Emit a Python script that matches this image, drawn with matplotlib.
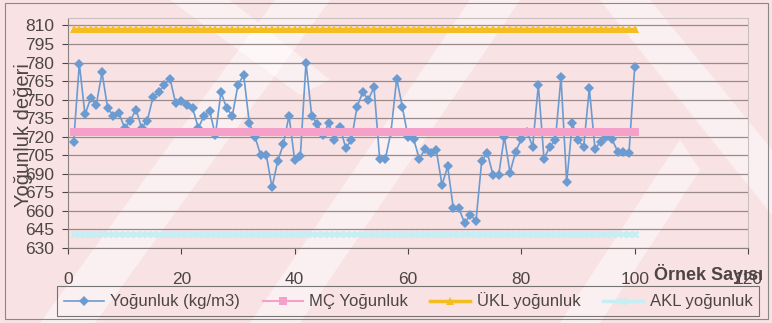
import matplotlib
matplotlib.use("Agg")
import matplotlib.pyplot as plt
from matplotlib.patches import Polygon, Rectangle

# density readings for samples 1..100
sample_no = list(range(1, 101))
density = [716, 779, 738, 751, 746, 772, 743, 737, 739, 727,
           733, 742, 727, 733, 752, 756, 762, 767, 747, 749,
           746, 743, 727, 737, 741, 721, 756, 743, 737, 762,
           770, 731, 720, 705, 705, 679, 700, 714, 737, 701,
           704, 780, 737, 730, 721, 731, 717, 728, 711, 717,
           744, 756, 750, 760, 702, 702, 724, 767, 744, 720,
           718, 702, 710, 707, 709, 681, 696, 662, 662, 650,
           657, 652, 700, 707, 689, 689, 720, 691, 708, 718,
           724, 712, 762, 702, 712, 717, 768, 683, 731, 717,
           712, 759, 710, 716, 720, 718, 708, 708, 707, 776]

center_line = 724   # MÇ
upper_limit = 807   # ÜKL
lower_limit = 641   # AKL

y_ticks = list(range(630, 811, 15))
x_ticks = [0, 20, 40, 60, 80, 100, 120]

plt.rcParams["font.family"] = ["Liberation Sans", "DejaVu Sans"]

fig = plt.figure(figsize=(7.72, 3.23), dpi=100)
fig.patch.set_facecolor("#f8e2e4")

# soft diagonal light bands across the sheet, kept behind the chart
W, H = 772, 323
def band(pts):
    poly = Polygon([(x / W, 1 - y / H) for x, y in pts], closed=True,
                   transform=fig.transFigure, facecolor="white", alpha=0.5,
                   edgecolor="none", zorder=-5)
    fig.patches.append(poly)

band([(40, 323), (95, 323), (330, 0), (275, 0)])
band([(250, 323), (300, 323), (520, 0), (470, 0)])
band([(560, 323), (600, 323), (700, 170), (680, 140)])
band([(170, 0), (230, 0), (330, 80), (300, 95)])
band([(600, 0), (650, 0), (772, 150), (772, 215)])

ax = fig.add_axes([68 / W, 1 - 248 / H, 680 / W, 230 / H])
ax.set_facecolor("none")
ax.set_zorder(2)

ax.plot(sample_no, density, color="#6b9bd1", lw=1.2, marker="D",
        markersize=5, markeredgewidth=0, label="Yoğunluk (kg/m3)", zorder=3)
ax.plot(sample_no, [center_line] * len(sample_no), color="#f5a0c8", lw=1.5,
        marker="s", markersize=6, markeredgewidth=0, label="MÇ Yoğunluk", zorder=4)
ax.plot(sample_no, [upper_limit] * len(sample_no), color="#f4be22", lw=2.5,
        marker="^", markersize=6, markeredgewidth=0, label="ÜKL yoğunluk", zorder=4)
ax.plot(sample_no, [lower_limit] * len(sample_no), color="#c6eef4", lw=2.5,
        marker="x", markersize=5, markeredgewidth=1.8, label="AKL yoğunluk", zorder=4)

ax.set_xlim(0, 120)
ax.set_ylim(630, 816)
ax.set_xticks(x_ticks)
ax.set_yticks(y_ticks)
ax.grid(axis="y", color="#9a8a8a", lw=0.9)
ax.set_axisbelow(True)

for s in ["top", "right"]:
    ax.spines[s].set_color("#c8c0c0")
for s in ["left", "bottom"]:
    ax.spines[s].set_color("#8a8080")

ax.tick_params(axis="y", labelsize=12.5, colors="#4d4545", length=4, pad=6)
ax.tick_params(axis="x", labelsize=12.5, colors="#4d4545", length=4, pad=13)

ax.set_ylabel("Yoğunluk değeri", fontsize=14.5, color="#4d4545")
ax.yaxis.set_label_coords(-0.052, 0.49)
ax.set_xlabel("Örnek Sayısı", fontsize=13, fontweight="bold", color="#4d4545")
ax.xaxis.set_label_coords(0.942, -0.07)

leg = fig.legend(loc="center", ncol=4, mode="expand",
                 bbox_to_anchor=(57 / W, 1 - 316 / H, 702 / W, 30 / H),
                 fontsize=12, frameon=True, fancybox=False, handlelength=2.4,
                 handletextpad=0.4, borderaxespad=0)
leg.get_frame().set_edgecolor("#555555")
leg.get_frame().set_facecolor("none")
leg.get_frame().set_linewidth(0.8)
for t in leg.get_texts():
    t.set_color("#4d4545")

fig.patches.append(Rectangle((5 / W, 1 - 319 / H), 763 / W, 316 / H,
                             transform=fig.transFigure, fill=False,
                             edgecolor="#888888", lw=0.8))

fig.savefig("out.png", dpi=100, facecolor=fig.get_facecolor())
